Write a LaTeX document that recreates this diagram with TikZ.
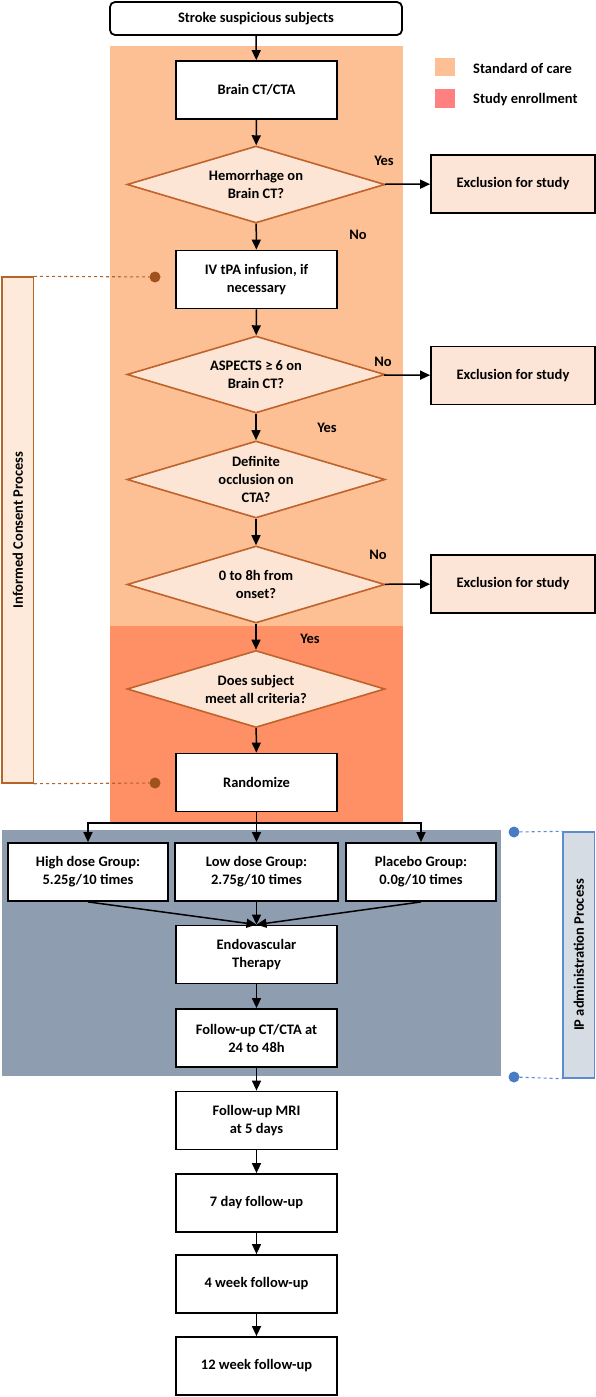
\documentclass[tikz,border=0pt]{standalone}
\usepackage{fontspec}
\setmainfont{Carlito}
\usetikzlibrary{shapes.geometric,arrows.meta}
\definecolor{socbg}{RGB}{253,191,148}
\definecolor{sebg}{RGB}{255,143,100}
\definecolor{seleg}{RGB}{255,128,128}
\definecolor{graybg}{RGB}{142,157,175}
\definecolor{diafill}{RGB}{252,229,213}
\definecolor{diabord}{RGB}{192,99,42}
\definecolor{exfill}{RGB}{252,228,214}
\definecolor{icfill}{RGB}{253,234,218}
\definecolor{icbord}{RGB}{181,101,42}
\definecolor{icdot}{RGB}{160,82,30}
\definecolor{ipfill}{RGB}{213,220,228}
\definecolor{ipbord}{RGB}{91,139,208}
\definecolor{ipdot}{RGB}{74,124,195}
\newcommand{\mytxt}{\bfseries\fontsize{14.5}{18}\selectfont}
\begin{document}
\begin{tikzpicture}[x=1pt,y=-1pt,
  box/.style={draw=black, line width=1.8pt, fill=white, minimum width=161pt, minimum height=58pt, align=center, inner sep=2pt, font=\mytxt},
  dia/.style={diamond, draw=diabord, fill=diafill, line width=1.6pt, aspect=3.35, minimum width=258pt, minimum height=77pt, inner sep=0pt, align=center, font=\mytxt},
  excl/.style={box, fill=exfill, minimum width=164pt},
  arr/.style={-{Triangle[length=10pt,width=9pt]}, line width=1.5pt},
  lbl/.style={font=\mytxt, inner sep=0pt},
  dotnode/.style={circle, inner sep=0pt, minimum size=11pt},
  proc/.style={line width=1.4pt, font=\mytxt, align=center, inner sep=0pt, rotate=90}
]
\useasboundingbox (0,0) rectangle (596,1397);
% backgrounds
\fill[socbg] (110.4,46) rectangle (402.7,626);
\fill[sebg] (110.4,626) rectangle (402.7,822);
\fill[graybg] (2,830) rectangle (501,1076);
% legend
\fill[socbg] (435,58) rectangle (455,76);
\fill[seleg] (435,89) rectangle (455,108);
\node[lbl, anchor=west] (leg1) at (473,68) {Standard of care};
\node[lbl, anchor=west] (leg2) at (473,100) {Study enrollment};
% main nodes
\node[box, rounded corners=5pt, minimum width=292pt, minimum height=33pt] (start) at (256,18.5) {Stroke suspicious subjects};
\node[box] (ct) at (256.5,90) {Brain CT/CTA};
\node[dia] (d1) at (256,184.5) {Hemorrhage on\\Brain CT?};
\node[excl] (e1) at (513,184) {Exclusion for study};
\node[box] (tpa) at (256.5,279.5) {IV tPA infusion, if\\necessary};
\node[dia] (d2) at (256,374.5) {ASPECTS ≥ 6 on\\Brain CT?};
\node[excl] (e2) at (513,375.5) {Exclusion for study};
\node[dia] (d3) at (256,479.5) {Definite\\occlusion on\\CTA?};
\node[dia] (d4) at (256,584.5) {0 to 8h from\\onset?};
\node[excl] (e3) at (513,584) {Exclusion for study};
\node[dia] (d5) at (256,689) {Does subject\\meet all criteria?};
\node[box] (rand) at (256.5,782.5) {Randomize};
\node[box, minimum width=160pt] (high) at (88,872) {High dose Group:\\5.25g/10 times};
\node[box, minimum width=163pt] (low) at (256.5,872) {Low dose Group:\\2.75g/10 times};
\node[box, minimum width=150pt] (plac) at (421,872) {Placebo Group:\\0.0g/10 times};
\node[box] (endo) at (256.5,954.5) {Endovascular\\Therapy};
\node[box] (fuct) at (256.5,1038) {Follow-up CT/CTA at\\24 to 48h};
\node[box] (mri) at (256.5,1120.5) {Follow-up MRI\\at 5 days};
\node[box] (w1) at (256.5,1203) {7 day follow-up};
\node[box] (w4) at (256.5,1284) {4 week follow-up};
\node[box] (w12) at (256.5,1366) {12 week follow-up};
% labels
\node[lbl] (y1) at (384,161) {Yes};
\node[lbl] (n1) at (358,235) {No};
\node[lbl] (n2) at (383,362) {No};
\node[lbl] (y2) at (327,428) {Yes};
\node[lbl] (n3) at (378,555) {No};
\node[lbl] (y3) at (310,639) {Yes};
% arrows
\draw[arr] (start) -- (ct);
\draw[arr] (ct) -- (d1);
\draw[arr] (d1) -- (e1);
\draw[arr] (d1) -- (tpa);
\draw[arr] (tpa) -- (d2);
\draw[arr] (d2) -- (e2);
\draw[arr] (d2) -- (d3);
\draw[arr] (d3) -- (d4);
\draw[arr] (d4) -- (e3);
\draw[arr] (d4) -- (d5);
\draw[arr] (d5) -- (rand);
\coordinate (br) at (256.5,823);
\draw[line width=1.5pt] (rand.south) -- (br);
\draw[arr] (br) -- (low.north);
\draw[arr] (br) -| (high.north);
\draw[arr] (br) -| (plac.north);
\draw[arr] (high.south) -- (endo.north);
\draw[arr] (low.south) -- (endo.north);
\draw[arr] (plac.south) -- (endo.north);
\draw[arr] (endo) -- (fuct);
\draw[arr] (fuct) -- (mri);
\draw[arr] (mri) -- (w1);
\draw[arr] (w1) -- (w4);
\draw[arr] (w4) -- (w12);
% informed consent
\node[proc, draw=icbord, fill=icfill, minimum width=506pt, minimum height=31.5pt] (ic) at (17.75,530) {Informed Consent Process};
\node[dotnode, fill=icdot] (icd1) at (155,277) {};
\node[dotnode, fill=icdot] (icd2) at (155,783) {};
\draw[icbord, dashed, line width=1.1pt] (ic.south east) -- (icd1);
\draw[icbord, dashed, line width=1.1pt] (ic.south west) -- (icd2);
% IP administration
\node[proc, draw=ipbord, fill=ipfill, minimum width=246pt, minimum height=31.6pt] (ip) at (578.8,955) {IP administration Process};
\node[dotnode, fill=ipdot] (ipd1) at (514,832) {};
\node[dotnode, fill=ipdot] (ipd2) at (514,1077) {};
\draw[ipbord, dashed, line width=1.1pt] (ipd1) -- (ip.north east);
\draw[ipbord, dashed, line width=1.1pt] (ipd2) -- (ip.north west);
\end{tikzpicture}
\end{document}
